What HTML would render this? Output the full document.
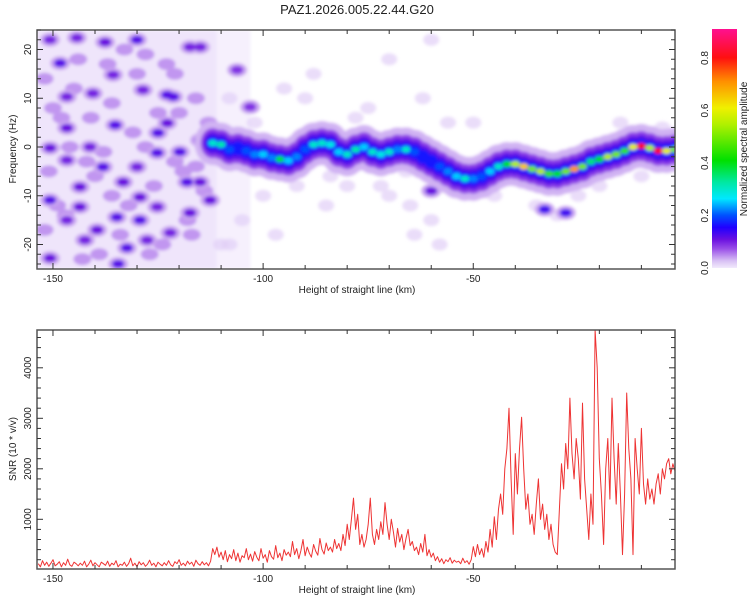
<!DOCTYPE html>
<html><head><meta charset="utf-8"><style>
body{margin:0;background:#fff;font-family:"Liberation Sans",sans-serif;}
svg text{font-family:"Liberation Sans",sans-serif;fill:#222;}
</style></head><body>
<svg id="c" width="750" height="600" viewBox="0 0 750 600" xmlns="http://www.w3.org/2000/svg">
<defs>
<filter id="bl" x="-20%" y="-20%" width="140%" height="140%"><feGaussianBlur stdDeviation="1.6"/></filter>
<linearGradient id="cmap" x1="0" y1="1" x2="0" y2="0">
<stop offset="0" stop-color="#f2eafc"/><stop offset="0.03" stop-color="#d8c0f4"/><stop offset="0.08" stop-color="#9a50e8"/>
<stop offset="0.12" stop-color="#6a10e0"/><stop offset="0.17" stop-color="#2000ff"/><stop offset="0.22" stop-color="#0050ff"/>
<stop offset="0.29" stop-color="#00e8ff"/><stop offset="0.36" stop-color="#00e8a0"/><stop offset="0.45" stop-color="#00e000"/>
<stop offset="0.6" stop-color="#b0f000"/><stop offset="0.67" stop-color="#f0f000"/><stop offset="0.78" stop-color="#ff9000"/>
<stop offset="0.88" stop-color="#ff1010"/><stop offset="1" stop-color="#ff1090"/>
</linearGradient>
<clipPath id="clipTop"><rect x="37" y="30" width="638" height="239"/></clipPath>
<clipPath id="clipBot"><rect x="37" y="330" width="638" height="239"/></clipPath>
</defs>
<text x="357" y="14" text-anchor="middle" font-size="13">PAZ1.2026.005.22.44.G20</text>
<g id="spec" clip-path="url(#clipTop)"></g>
<g id="topAxes"></g>
<g id="cbar"></g>
<g id="snr" clip-path="url(#clipBot)"></g>
<g id="botAxes"></g>
<text x="357" y="293" text-anchor="middle" font-size="10">Height of straight line (km)</text>
<text x="357" y="593" text-anchor="middle" font-size="10">Height of straight line (km)</text>
<text transform="translate(16,149) rotate(-90)" text-anchor="middle" font-size="10">Frequency (Hz)</text>
<text transform="translate(16,449) rotate(-90)" text-anchor="middle" font-size="10">SNR (10 * v/v)</text>
<text transform="translate(747,149) rotate(-90)" text-anchor="middle" font-size="10">Normalized spectral amplitude</text>
</svg>
<script>
const xTicks=[-150,-100,-50];
const yTicksTop=[-20,-10,0,10,20];
const yTicksBot=[1000,2000,3000,4000];
const cbTicks=[0.0,0.2,0.4,0.6,0.8];
const ridgeKm=[-112,-110,-108,-106,-104,-102,-100,-98,-96,-94,-92,-90,-88,-86,-84,-82,-80,-78,-76,-74,-72,-70,-68,-66,-64,-62,-60,-58,-56,-54,-52,-50,-48,-46,-44,-42,-40,-38,-36,-34,-32,-30,-28,-26,-24,-22,-20,-18,-16,-14,-12,-10,-8,-6,-4,-2];
const ridgeHz=[0.8,0.5,-0.5,-0.3,-0.8,-1.5,-1.5,-2.2,-2.5,-2.8,-2.0,-0.5,0.5,0.8,0.5,-1.0,-1.5,-0.5,0.0,-1.0,-1.5,-1.0,-0.5,-0.5,-1.0,-2.0,-3.0,-4.0,-5.0,-6.0,-6.5,-6.5,-6.0,-5.0,-4.0,-3.5,-3.5,-4.0,-4.5,-5.0,-5.5,-5.5,-5.0,-4.5,-4.0,-3.0,-2.5,-2.0,-1.5,-0.8,0.0,0.2,-0.2,-0.8,-0.8,-0.5];
const ridgeAmp=[0.3,0.32,0.2,0.18,0.2,0.22,0.25,0.22,0.38,0.25,0.22,0.2,0.3,0.3,0.28,0.25,0.3,0.32,0.25,0.3,0.28,0.3,0.22,0.3,0.2,0.18,0.18,0.2,0.22,0.25,0.3,0.22,0.2,0.25,0.3,0.4,0.55,0.65,0.5,0.55,0.45,0.4,0.5,0.7,0.5,0.35,0.4,0.55,0.5,0.45,0.6,0.8,0.55,0.8,0.6,0.5];
const noiseKm=[-148.3,-130,-137.6,-122.8,-135.2,-146.7,-138.1,-150.7,-143.6,-150.7,-134.8,-129.3,-143.6,-139.5,-132.4,-150.7,-134.5,-125,-125.2,-119.8,-115,-118.1,-115,-112.6,-117.4,-121.4,-115,-117.4,-140.5,-146.7,-135.7,-128.6,-122.8,-130,-133.3,-141.2,-146.7,-129.3,-125.2,-122.1,-127.6,-142.4,-146.7,-144.3,-150.7,-106.2,-103.1,-33,-28,-60,-56];
const noiseHz=[17.2,22,21.5,10.7,4.5,3.9,-4.1,-0.2,-8.2,-10.9,-14.4,-15,-12.3,-17,-20.7,-22.8,-24,2.9,-1.2,-1,1.4,-7.2,-7.2,-10.9,-13.5,10.3,20.5,20.5,11,10.3,14.8,11.7,4.9,-4.1,-7.2,0,-2.7,-10.3,-12.3,-17.6,-19.1,-19.1,-15,22.4,22,15.8,8.2,-12.8,-13.5,-9,-8];
const noiseAmp=[0.12,0.12,0.11,0.12,0.12,0.11,0.12,0.11,0.11,0.12,0.12,0.12,0.11,0.11,0.12,0.11,0.12,0.12,0.12,0.12,0.12,0.12,0.11,0.11,0.11,0.12,0.1,0.1,0.1,0.1,0.1,0.1,0.11,0.1,0.11,0.1,0.1,0.11,0.1,0.1,0.1,0.1,0.1,0.1,0.1,0.09,0.09,0.13,0.13,0.11,0.11];
const midKm=[-152,-148,-144,-140,-136,-132,-128,-124,-120,-116,-152,-147,-142,-137,-131,-126,-121,-117,-150,-145,-139,-134,-128,-123,-118,-113,-151,-146,-141,-136,-130,-125,-119,-114,-149,-143,-138,-133,-127,-121,-116];
const midHz=[14,6,18,-6,9,-12,19,-20,7,-4,-17,-14,-3,17,3,-8,15,-18,8,12,-22,-18,0,17,-15,5,-5,0,6,-10,15,7,-5,-9,-12,-23,-1,20,-22,-3,10];
const paleKm=[-95,-90,-80,-75,-70,-65,-60,-58,-62,-56,-85,-100,-105,-108,-97,-88,-70,-60,-50,-45,-35,-30,-25,-20,-15,-10,-5,-66,-64,-72,-92,-102,-110,-108,-84,-78];
const paleHz=[12,10,-8,8,-10,-12,-15,-20,10,5,-12,-10,-15,-20,-18,15,18,22,5,-10,-12,-14,-10,-8,5,-6,4,-5,-18,-8,-8,5,-20,10,-6,6];
const snrStart=-153.5, snrStep=0.5;
const snrVals=[120,60,180,90,150,70,130,200,80,110,160,60,140,90,210,100,70,150,120,80,
130,90,170,60,110,190,80,140,100,60,150,120,90,170,70,130,100,180,60,110,
90,150,70,120,230,80,130,60,160,100,140,70,110,190,90,130,60,150,110,80,
140,90,180,100,70,160,120,200,90,130,80,170,110,150,70,190,120,90,160,100,
140,80,170,420,300,450,250,350,200,380,160,300,220,400,180,330,150,280,240,420,
200,310,170,360,250,180,420,230,300,150,380,260,210,480,240,330,180,400,290,350,
260,560,300,420,220,380,600,280,450,330,250,500,370,290,620,400,310,530,380,450,
350,600,420,520,380,700,480,900,600,1000,1420,800,1100,500,700,450,600,900,1420,700,
500,800,600,950,700,1330,900,600,1000,750,450,820,550,700,400,620,800,480,560,380,
450,300,520,350,700,280,400,250,330,180,260,150,220,120,200,160,240,130,190,150,
170,120,230,140,180,110,200,460,260,500,300,420,250,560,350,800,450,1050,600,1200,
1500,1100,2000,2400,3200,1800,700,2300,1500,2400,3020,2000,1200,1500,900,1100,700,1300,1800,1000,
1300,800,1100,600,900,500,350,300,1200,2100,1600,2500,2000,3400,2300,1800,2600,2200,1400,3300,
1800,1200,600,1500,900,4750,4000,2200,1500,500,2000,2600,1400,3400,2200,1300,2500,1500,300,1500,
3500,2400,1800,300,2600,2000,1500,2800,1700,1300,1800,1400,1600,1300,1700,1900,1500,2000,1800,2100,
2200,1900,2100,1950];

const NS='http://www.w3.org/2000/svg';
const X0=37,X1=675,KM0=-153.8,KM1=-2.0;
const xS=k=>X0+(k-KM0)*(X1-X0)/(KM1-KM0);
const yT=h=>147-h*4.875;
const yB=v=>569.8-v*0.0505;
const yC=a=>268-a*262.5;
function mk(tag,attrs,parent){const e=document.createElementNS(NS,tag);for(const k in attrs)e.setAttribute(k,attrs[k]);parent.appendChild(e);return e;}
const stops=[[0,'#f2eafc'],[0.03,'#d8c0f4'],[0.07,'#9a50e8'],[0.11,'#6a10e0'],[0.15,'#2000ff'],[0.2,'#0050ff'],[0.26,'#00e8ff'],[0.33,'#00e8a0'],[0.41,'#00e000'],[0.55,'#b0f000'],[0.61,'#f0f000'],[0.71,'#ff9000'],[0.8,'#ff1010'],[0.91,'#ff1090']];
function hx(c){return [1,3,5].map(i=>parseInt(c.substr(i,2),16));}
function cmap(a){for(let i=1;i<stops.length;i++){if(a<=stops[i][0]){const t=(a-stops[i-1][0])/(stops[i][0]-stops[i-1][0]);const p=hx(stops[i-1][1]),q=hx(stops[i][1]);return 'rgb('+p.map((v,j)=>Math.round(v+(q[j]-v)*t)).join(',')+')';}}return stops[stops.length-1][1];}

const spec=document.getElementById('spec');
const bg=mk('g',{filter:'url(#bl)'},spec);
let r=mk('rect',{x:xS(-154),y:30,width:xS(-111)-xS(-154),height:239,fill:'#efe5fb'},bg);


r=mk('rect',{x:xS(-111),y:30,width:xS(-103)-xS(-111),height:239,fill:'#f6f0fd'},bg);


for(let i=0;i<paleKm.length;i++){
  const e=mk('ellipse',{cx:xS(paleKm[i]),cy:yT(paleHz[i]),rx:8,ry:6,fill:cmap(0.02),opacity:0.7},bg);
  
  
}
for(let i=0;i<midKm.length;i++){
  const e=mk('ellipse',{cx:xS(midKm[i]),cy:yT(midHz[i]),rx:9,ry:6,fill:cmap(0.045)},bg);
  
  
}
for(let i=0;i<noiseKm.length;i++){
  const e=mk('ellipse',{cx:xS(noiseKm[i]),cy:yT(noiseHz[i]),rx:10,ry:7,fill:cmap(0.04)},bg);
  
  
}
for(let i=0;i<noiseKm.length;i++){
  const e=mk('ellipse',{cx:xS(noiseKm[i]),cy:yT(noiseHz[i]),rx:6,ry:4,fill:cmap(noiseAmp[i])},bg);
  
  
}
const layers=[[18,22,()=>cmap(0.035)],[12,15,()=>cmap(0.08)],[9,11,()=>cmap(0.12)],[7,7,a=>cmap(Math.min(a,0.165))],[4.5,3.2,a=>cmap(a)]];
layers.forEach((L,li)=>{
  for(let i=0;i<ridgeKm.length;i++){
    const a=ridgeAmp[i];
    if(li===3&&a<0.18)continue;
    if(li===4&&a<0.2)continue;
    const e=mk('ellipse',{cx:xS(ridgeKm[i]),cy:yT(ridgeHz[i]),rx:L[0],ry:L[1],fill:L[2](a)},bg);
    
    
  }
});

function axes(g,y0,y1,yTicks,yf,minorY,minorStep){
  const fr=mk('rect',{x:X0,y:y0,width:X1-X0,height:y1-y0,fill:'none',stroke:'#555','stroke-width':1.5},g);
  
  
  for(let k=-150;k<=-10;k+=10){
    const x=xS(k),big=(k%50===0);
    mk('line',{x1:x,x2:x,y1:y1,y2:y1-(big?6:4),stroke:'#333'},g);
    mk('line',{x1:x,x2:x,y1:y0,y2:y0+(big?6:4),stroke:'#333'},g);
  }
  xTicks.forEach(k=>{const t=mk('text',{x:xS(k),y:y1+13,'text-anchor':'middle','font-size':10},g);t.textContent=k;
    
    });
  for(let v=minorY[0];v<=minorY[1];v+=minorStep){
    const y=yf(v);if(y<y0||y>y1)continue;
    const big=yTicks.includes(v);
    mk('line',{x1:X0,x2:X0+(big?6:4),y1:y,y2:y,stroke:'#333'},g);
    mk('line',{x1:X1,x2:X1-(big?6:4),y1:y,y2:y,stroke:'#333'},g);
  }
  yTicks.forEach(v=>{const t=mk('text',{transform:'translate('+(X0-6)+','+yf(v)+') rotate(-90)','text-anchor':'middle','font-size':10},g);t.textContent=v;
    
    });
}
axes(document.getElementById('topAxes'),30,269,yTicksTop,yT,[-24,24],2);
axes(document.getElementById('botAxes'),330,569,yTicksBot,yB,[200,4600],200);

const cb=document.getElementById('cbar');
const cr=mk('rect',{x:712,y:29,width:25,height:239,fill:'url(#cmap)'},cb);


cbTicks.forEach(v=>{const t=mk('text',{transform:'translate(708,'+yC(v)+') rotate(-90)','text-anchor':'middle','font-size':10},cb);t.textContent=v.toFixed(1);
  
  });

const pts=snrVals.map((v,i)=>xS(snrStart+i*snrStep).toFixed(1)+','+yB(v).toFixed(1)).join(' ');
const pl=mk('polyline',{points:pts,fill:'none',stroke:'#ee3333','stroke-width':1,'stroke-linejoin':'round'},document.getElementById('snr'));


</script>
</body></html>
